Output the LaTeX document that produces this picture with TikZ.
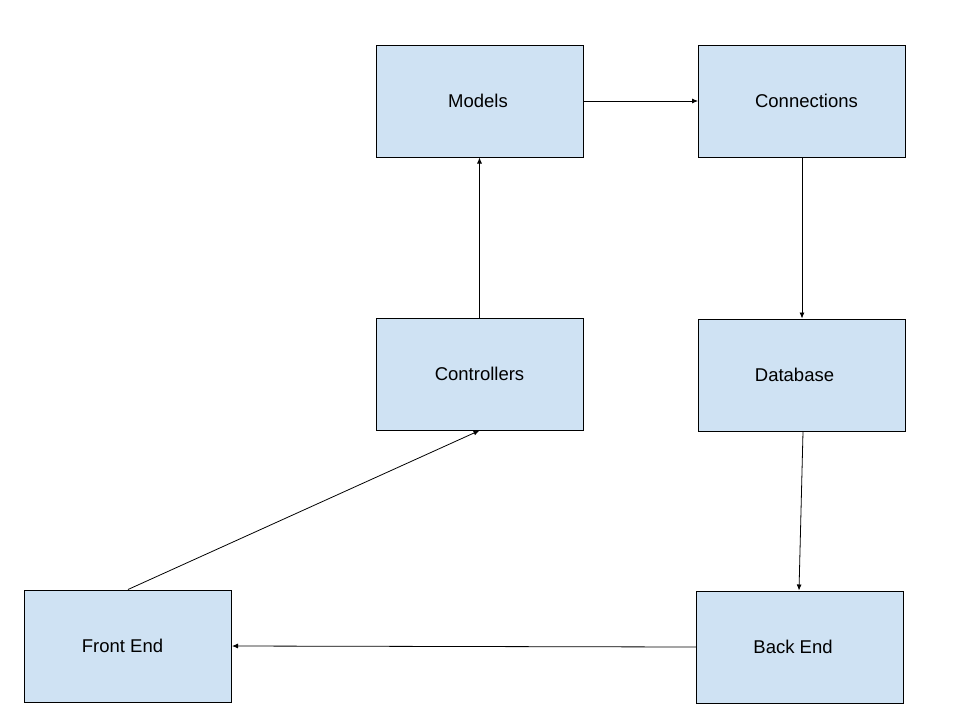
\documentclass[tikz,border=0pt]{standalone}
\usepackage{fontspec}
\setmainfont{Liberation Sans}
\usetikzlibrary{arrows.meta}
\definecolor{boxblue}{HTML}{CFE2F3}
\tikzset{
  part/.style={draw, fill=boxblue, line width=1pt, minimum width=207pt, minimum height=112pt, inner sep=0pt, font=\fontsize{18.5}{22}\selectfont},
  link/.style={line width=0.8pt, -{Latex[length=6pt,width=5pt]}}
}
\begin{document}
\begin{tikzpicture}[x=1pt,y=-1pt]
                \useasboundingbox (0,0) rectangle (960,720);
                \node[part] (models) at (479.5,101) {\hspace*{-3pt}Models};
                \node[part] (conn) at (802,101) {\hspace*{9pt}Connections};
                \node[part] (ctrl) at (479.5,374) {Controllers};
                \node[part] (db) at (802,375) {\hspace*{-15pt}Database};
                \node[part] (fe) at (128,646) {\hspace*{-11pt}Front End};
                \node[part] (be) at (800,647) {\hspace*{-14pt}Back End};
                \draw[link] (models.east) -- (conn.west);
                \draw[link] (ctrl.north) -- (models.south);
                \draw[link] (conn.south) -- (db.north);
                \draw[link] ([xshift=1pt]db.south) -- ([xshift=-1pt]be.north);
                \draw[link] (be.west) -- (fe.east);
                \draw[link] (fe.north) -- (ctrl.south);
            \end{tikzpicture}
\end{document}
